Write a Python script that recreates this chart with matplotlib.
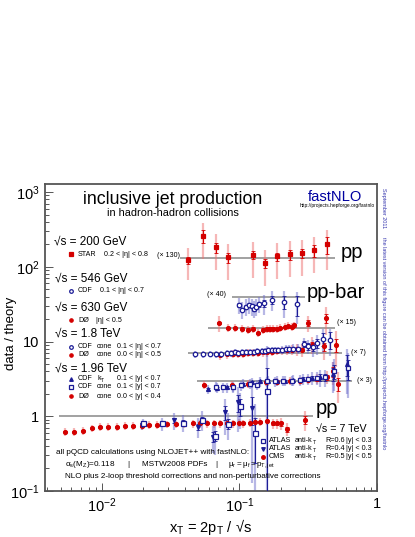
import numpy as np
import matplotlib
matplotlib.use('Agg')
import matplotlib.pyplot as plt
from matplotlib.ticker import FixedLocator, FixedFormatter, LogLocator, NullFormatter

plt.rcParams['font.family'] = ['Liberation Sans', 'DejaVu Sans']
plt.rcParams['mathtext.fontset'] = 'custom'
plt.rcParams['mathtext.rm'] = 'Liberation Sans'
plt.rcParams['mathtext.it'] = 'Liberation Sans:italic'

# ---- data: ratio data/theory ----
# sqrt(s) = 200 GeV, STAR (x 130)
star_x = [0.0422, 0.0543, 0.0675, 0.0825, 0.1254, 0.1532, 0.1873, 0.2328, 0.2851, 0.3484, 0.4327]
star_r = [0.94, 1.97, 1.40, 1.03, 1.10, 0.86, 1.06, 1.13, 1.17, 1.28, 1.54]
star_stat = [0.12, 0.2, 0.15, 0.15, 0.12, 0.15, 0.12, 0.15, 0.15, 0.18, 0.25]
star_sys = [0.45, 0.5, 0.5, 0.5, 0.5, 0.5, 0.5, 0.5, 0.5, 0.5, 0.55]

# 546 GeV, CDF (x 40)
cdf546_x = [0.0997, 0.105, 0.111, 0.117, 0.1227, 0.1275, 0.132, 0.1387, 0.1507, 0.1714, 0.211, 0.2606]
cdf546_r = [0.77, 0.67, 0.73, 0.77, 0.74, 0.69, 0.73, 0.79, 0.81, 0.91, 0.85, 0.79]
cdf546_stat = [0.05, 0.05, 0.05, 0.05, 0.06, 0.06, 0.07, 0.08, 0.1, 0.12, 0.2, 0.3]
cdf546_sys = [0.25, 0.25, 0.25, 0.25, 0.25, 0.25, 0.25, 0.25, 0.3, 0.3, 0.4, 0.45]

# 630 GeV, D0 (x 15)
d0630_x = [0.0710, 0.0821, 0.0927, 0.1037, 0.1159, 0.1247, 0.1371, 0.1475, 0.1577, 0.1667,
           0.1762, 0.1866, 0.1971, 0.2143, 0.2265, 0.2398, 0.2489, 0.3165, 0.4256]
d0630_r = [1.18, 1.01, 1.01, 0.99, 0.96, 0.99, 0.87, 0.96, 0.99, 0.99,
           0.99, 0.99, 1.01, 1.04, 1.07, 1.04, 1.10, 1.18, 1.37]
d0630_stat = [0.04] * 17 + [0.08, 0.15]
d0630_sys = [0.25] + [0.12] * 16 + [0.25, 0.4]

# 1.8 TeV, CDF cone and D0 cone (x 7)
cdf18_x = [0.0475, 0.0540, 0.0610, 0.0671, 0.0730, 0.0807, 0.0863, 0.0927, 0.0980, 0.1037,
           0.1115, 0.1192, 0.1275, 0.1348, 0.1450, 0.1532, 0.1620, 0.1715, 0.1811, 0.1915,
           0.2028, 0.2179, 0.2302, 0.2462, 0.2677, 0.2946, 0.3165, 0.3442, 0.3681, 0.4028, 0.4550]
cdf18_r = [0.96, 0.96, 0.98, 0.96, 0.96, 1.0, 1.0, 1.02, 1.0, 1.02,
           1.04, 1.04, 1.04, 1.06, 1.06, 1.06, 1.085, 1.085, 1.11, 1.11,
           1.11, 1.13, 1.13, 1.14, 1.15, 1.33, 1.23, 1.20, 1.36, 1.54, 1.51]
cdf18_stat = [0.02] * 20 + [0.03, 0.03, 0.04, 0.05, 0.06, 0.08, 0.1, 0.12, 0.15, 0.2, 0.25]
cdf18_sys = [0.1] * 20 + [0.12, 0.12, 0.14, 0.15, 0.16, 0.2, 0.22, 0.25, 0.3, 0.35, 0.4]

d018_x = [0.0721, 0.0807, 0.0892, 0.0980, 0.1066, 0.1159, 0.1260, 0.1370, 0.1490, 0.1593,
          0.1715, 0.1865, 0.2028, 0.2204, 0.2396, 0.2606, 0.2835, 0.3351, 0.4117, 0.5034]
d018_r = [0.93, 0.96, 0.98, 0.98, 0.98, 1.0, 1.0, 1.0, 1.02, 1.02,
          1.04, 1.06, 1.085, 1.085, 1.11, 1.13, 1.11, 1.30, 1.23, 1.30]
d018_stat = [0.02] * 14 + [0.03, 0.04, 0.05, 0.08, 0.12, 0.2]
d018_sys = [0.12] * 14 + [0.15, 0.18, 0.2, 0.25, 0.35, 0.5]

# 1.96 TeV, CDF kT, CDF cone, D0 cone (x 3)
cdfkt_x = [0.0593, 0.0689, 0.0807, 0.0901, 0.1066, 0.1227, 0.1409, 0.1620, 0.1865, 0.2142,
           0.2462, 0.2882, 0.3351, 0.3846, 0.4813, 0.6021]
cdfkt_r = [0.77, 0.80, 0.815, 0.83, 0.90, 0.95, 0.98, 1.0, 1.0, 1.0,
           1.02, 1.05, 1.085, 1.11, 1.23, 1.67]
cdfkt_stat = [0.03] * 10 + [0.04, 0.05, 0.07, 0.1, 0.2, 0.3]
cdfkt_sys = [0.15] * 10 + [0.16, 0.18, 0.2, 0.25, 0.45, 0.6]

cdfcone_x = [0.0675, 0.0762, 0.0892, 0.1020, 0.1192, 0.1348, 0.1593, 0.1811, 0.2083, 0.2396,
             0.2754, 0.3165, 0.3644, 0.4188, 0.4894, 0.6185]
cdfcone_r = [0.83, 0.815, 0.815, 0.86, 0.90, 0.88, 0.98, 0.98, 1.0, 1.0,
             1.02, 1.05, 1.085, 1.11, 1.33, 1.47]
cdfcone_stat = [0.03] * 10 + [0.04, 0.05, 0.07, 0.1, 0.2, 0.3]
cdfcone_sys = [0.15] * 10 + [0.16, 0.18, 0.2, 0.25, 0.45, 0.6]

d0196_x = [0.0552, 0.0878, 0.1159, 0.1559, 0.1865, 0.2328, 0.2754, 0.3165, 0.3644, 0.4308, 0.4764, 0.5231]
d0196_r = [0.88, 0.88, 0.90, 0.95, 0.97, 1.0, 1.0, 1.02, 1.05, 1.11, 1.33, 0.90]
d0196_stat = [0.03] * 8 + [0.05, 0.08, 0.15, 0.2]
d0196_sys = [0.12] * 8 + [0.15, 0.2, 0.35, 0.45]

# 7 TeV pp, ATLAS R=0.6, ATLAS R=0.4, CMS R=0.5 (x 1)
atlas6_x = [0.01998, 0.02718, 0.03902, 0.05313, 0.06633, 0.08288, 0.1008, 0.1297, 0.1593]
atlas6_r = [0.80, 0.80, 0.82, 0.90, 0.55, 0.79, 1.36, 0.59, 2.2]
atlas6_stat = [0.05, 0.05, 0.08, 0.1, 0.15, 0.15, 0.25, 0.6, 1.0]
atlas6_sys = [0.15, 0.2, 0.25, 0.3, 0.45, 0.4, 0.5, 1.5, 3.0]

atlas4_x = [0.01944, 0.0334, 0.0502, 0.0645, 0.0785, 0.0980, 0.1227]
atlas4_r = [0.76, 0.88, 0.72, 0.53, 1.13, 1.54, 1.28]
atlas4_stat = [0.05, 0.08, 0.1, 0.15, 0.2, 0.25, 0.4]
atlas4_sys = [0.15, 0.25, 0.3, 0.4, 0.5, 0.6, 0.9]

cms_x = [0.00538, 0.00626, 0.00724, 0.00841, 0.00967, 0.0111, 0.0128, 0.0147, 0.0169, 0.01944,
         0.02208, 0.02524, 0.02954, 0.03453, 0.03949, 0.04566, 0.05162, 0.05834, 0.06524, 0.07215,
         0.08069, 0.09013, 0.09966, 0.1066, 0.1192, 0.1297, 0.1409, 0.1593, 0.1744, 0.1865,
         0.1994, 0.2227, 0.2995]
cms_r = [0.62, 0.62, 0.64, 0.69, 0.72, 0.72, 0.72, 0.74, 0.74, 0.74,
         0.77, 0.76, 0.78, 0.78, 0.80, 0.80, 0.80, 0.80, 0.80, 0.80,
         0.80, 0.80, 0.81, 0.80, 0.81, 0.84, 0.84, 0.87, 0.80, 0.80,
         0.80, 0.67, 0.90]
cms_stat = [0.02] * 28 + [0.04, 0.05, 0.06, 0.08, 0.12]
cms_sys = [0.12] * 28 + [0.15, 0.15, 0.18, 0.2, 0.3]

ytick_vals = [0.1, 1, 10, 100, 1000]
ytick_labels = [r'$\mathregular{10^{-1}}$', '1', '10', r'$\mathregular{10^{2}}$', r'$\mathregular{10^{3}}$']
xtick_vals = [0.01, 0.1, 1]
xtick_labels = [r'$\mathregular{10^{-2}}$', r'$\mathregular{10^{-1}}$', '1']

RED, LRED = '#d40000', '#ee7070'
BLUE, LBLUE = '#1c1c96', '#7070cc'
GREY = '#9a9a9a'

W, H = 415, 537
fig = plt.figure(figsize=(W / 100, H / 100), dpi=100)
ax = fig.add_axes([45 / W, 46 / H, 332 / W, 307 / H])
ax.set_xscale('log')
ax.set_yscale('log')
ax.set_xlim(0.00385, 1)
ax.set_ylim(0.1, 1280)


def draw(x, r, scale, stat, sys, marker, col, lcol, face, ms=3.2):
    x = np.asarray(x)
    y = np.asarray(r) * scale
    stat = np.asarray(stat)
    sys = np.asarray(sys)
    ax.vlines(x, y * (1 - np.minimum(sys, 0.97)), y * (1 + sys), color=lcol, lw=1.6, alpha=0.5, zorder=2)
    ax.errorbar(x, y, yerr=[y * np.minimum(stat, 0.97), y * stat], fmt='none', ecolor=col,
                elinewidth=0.8, capsize=1.2, capthick=0.6, zorder=3)
    ax.plot(x, y, ls='none', marker=marker, ms=ms, mfc=face, mec=col, mew=0.9, zorder=4)


# reference lines for each sqrt(s)
ref_lines = [(130, 0.0369, 0.4955), (40, 0.0884, 0.2992), (15, 0.059, 0.4955),
             (7, 0.0422, 0.56), (3, 0.049, 0.66), (1, 0.00487, 0.342)]
for s, x0, x1 in ref_lines:
    ax.hlines(s, x0, x1, color=GREY, lw=1.3, zorder=1)

draw(star_x, star_r, 130, star_stat, star_sys, 's', RED, LRED, RED)
draw(cdf546_x, cdf546_r, 40, cdf546_stat, cdf546_sys, 'o', BLUE, LBLUE, 'white')
draw(d0630_x, d0630_r, 15, d0630_stat, d0630_sys, 'o', RED, LRED, RED, ms=2.8)
draw(d018_x, d018_r, 7, d018_stat, d018_sys, 'o', RED, LRED, RED, ms=2.8)
draw(cdf18_x, cdf18_r, 7, cdf18_stat, cdf18_sys, 'o', BLUE, LBLUE, 'white')
draw(d0196_x, d0196_r, 3, d0196_stat, d0196_sys, 'o', RED, LRED, RED, ms=2.8)
draw(cdfkt_x, cdfkt_r, 3, cdfkt_stat, cdfkt_sys, '^', BLUE, LBLUE, BLUE, ms=2.8)
draw(cdfcone_x, cdfcone_r, 3, cdfcone_stat, cdfcone_sys, 's', BLUE, LBLUE, 'white')
draw(cms_x, cms_r, 1, cms_stat, cms_sys, 'o', RED, LRED, RED, ms=2.8)
draw(atlas4_x, atlas4_r, 1, atlas4_stat, atlas4_sys, 'v', BLUE, LBLUE, BLUE, ms=2.8)
draw(atlas6_x, atlas6_r, 1, atlas6_stat, atlas6_sys, 's', BLUE, LBLUE, 'white', ms=3.6)

# axes styling (ROOT-like)
for sp in ax.spines.values():
    sp.set_color('#555555')
    sp.set_linewidth(1.3)
ax.yaxis.set_major_locator(FixedLocator(ytick_vals))
ax.yaxis.set_major_formatter(FixedFormatter(ytick_labels))
ax.yaxis.set_minor_locator(LogLocator(base=10, subs=np.arange(2, 10)))
ax.yaxis.set_minor_formatter(NullFormatter())
ax.xaxis.set_major_locator(FixedLocator(xtick_vals))
ax.xaxis.set_major_formatter(FixedFormatter(xtick_labels))
ax.xaxis.set_minor_locator(LogLocator(base=10, subs=np.arange(2, 10)))
ax.xaxis.set_minor_formatter(NullFormatter())
ax.tick_params(which='both', direction='in', top=False, right=False, color='#555555', width=0.7)
ax.tick_params(which='major', length=6, labelsize=10.5)
ax.tick_params(which='minor', length=3)
ax.tick_params(axis='y', pad=4)
ax.tick_params(axis='x', pad=4)


def px(x, y):
    return x / W, 1 - y / H


def T(x, y, s, size, **kw):
    kw.setdefault('va', 'center')
    fig.text(*px(x, y), s, fontsize=size, **kw)


def M(x, y, marker, col, face, ms=3.2):
    fig.lines.append(plt.Line2D([x / W], [1 - y / H], marker=marker, ms=ms, mfc=face, mec=col,
                                mew=0.9, ls='none', transform=fig.transFigure))


T(173, 199, 'inclusive jet production', 12.8, ha='center')
T(173, 213, 'in hadron-hadron collisions', 7.9, ha='center')
T(335, 197, 'fastNLO', 10.6, ha='center', color='#0000a0')
T(375, 206, 'http://projects.hepforge.org/fastnlo', 3.5, ha='right')

sz_head, sz_leg = 8.5, 5.1
T(54, 242, '√s = 200 GeV', sz_head)
M(71, 254, 's', RED, RED, 2.6)
T(78, 254, 'STAR', sz_leg)
T(104, 254, '0.2 < |η| < 0.8', sz_leg)
T(157, 256, '(× 130)', sz_leg)

T(55, 279, '√s = 546 GeV', sz_head)
M(71, 291, 'o', BLUE, 'white', 2.6)
T(78, 291, 'CDF', sz_leg)
T(100, 291, '0.1 < |η| < 0.7', sz_leg)
T(207, 294, '(× 40)', sz_leg)

T(55, 308, '√s = 630 GeV', sz_head)
M(71, 320, 'o', RED, RED, 2.4)
T(78, 320, 'DØ', sz_leg)
T(96, 320, '|η| < 0.5', sz_leg)
T(337, 323, '(× 15)', sz_leg)

T(55, 334, '√s = 1.8 TeV', sz_head)
M(71, 347, 'o', BLUE, 'white', 2.6)
T(78, 347, 'CDF', sz_leg)
T(97, 347, 'cone', sz_leg)
T(117, 347, '0.1 < |η| < 0.7', sz_leg)
M(71, 355, 'o', RED, RED, 2.4)
T(78, 355, 'DØ', sz_leg)
T(97, 355, 'cone', sz_leg)
T(117, 355, '0.0 < |η| < 0.5', sz_leg)
T(351, 353, '(× 7)', sz_leg)

T(55, 369, '√s = 1.96 TeV', sz_head)
M(71, 379, '^', BLUE, BLUE, 2.6)
T(78, 379, 'CDF', sz_leg)
T(97, 379, 'k', sz_leg)
T(100.8, 380.5, 'T', 3.6)
T(117, 379, '0.1 < |y| < 0.7', sz_leg)
M(71, 387, 's', BLUE, 'white', 2.8)
T(78, 387, 'CDF', sz_leg)
T(97, 387, 'cone', sz_leg)
T(117, 387, '0.1 < |y| < 0.7', sz_leg)
M(71, 396, 'o', RED, RED, 2.4)
T(78, 396, 'DØ', sz_leg)
T(97, 396, 'cone', sz_leg)
T(117, 396, '0.0 < |y| < 0.4', sz_leg)
T(357, 380, '(× 3)', sz_leg)

T(341, 252, 'pp', 14.5)
T(307, 292, 'pp-bar', 14.5)
T(316, 409, 'pp', 14.5)
T(316, 429, '√s = 7 TeV', 7.7)

sz7 = 5.2
rows7 = [(441, 's', 'white', 'R=0.6', '|y| < 0.3', 'ATLAS', BLUE),
         (449, 'v', BLUE, 'R=0.4', '|y| < 0.3', 'ATLAS', BLUE),
         (457, 'o', RED, 'R=0.5', '|y| < 0.5', 'CMS', RED)]
for yy, mk, face, rr, yr, name, col in rows7:
    M(263, yy, mk, col, face, 2.6)
    T(269, yy, name, sz7)
    T(295, yy, 'anti-k', sz7)
    T(312.6, yy + 1.6, 'T', 3.7)
    T(325, yy, rr, sz7)
    T(346, yy, yr, sz7)

T(56, 452, 'all pQCD calculations using NLOJET++ with fastNLO:', 5.85)
T(65, 465, r'$\mathregular{\alpha_s(M_Z)}$=0.118', 5.85)
T(127, 465, '|', 5.85)
T(142, 465, 'MSTW2008 PDFs', 5.85)
T(215, 465, '|', 5.85)
T(228, 465, r'$\mathregular{\mu_r = \mu_f = p_{T,jet}}$', 5.85)
T(65, 477, 'NLO plus 2-loop threshold corrections and non-perturbative corrections', 5.85)

T(252, 527, r'x$_\mathregular{T}$ = 2p$_\mathregular{T}$ / √s', 10.5, ha='right')
T(11, 333, 'data / theory', 9.5, ha='center', rotation=90)

T(383, 188, 'September 2011', 4.0, ha='center', va='top', rotation=-90, color='#3a3ab0')
T(383, 237, 'the latest version of this figure can be obtained from http://projects.hepforge.org/fastnlo',
  4.0, ha='center', va='top', rotation=-90, color='#3a3ab0')

fig.savefig('out.png', dpi=100)
